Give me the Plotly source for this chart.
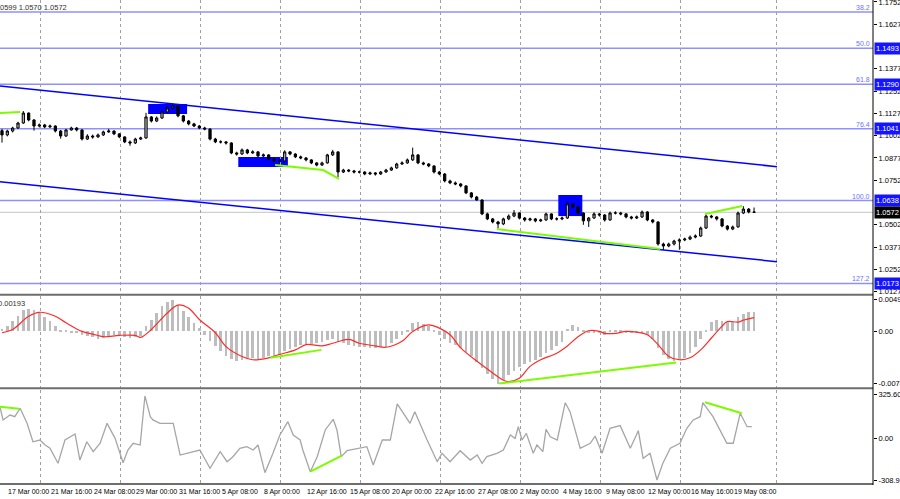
import plotly.graph_objects as go
from plotly.subplots import make_subplots

# EURUSD 8h-ish bars (bar index -> price)
opens = [1.1030, 1.1006, 1.1028, 1.1045, 1.1073, 1.1129, 1.1090, 1.1056, 1.1062, 1.1051,
         1.1056, 1.1028, 1.1000, 1.1034, 1.1045, 1.1034, 1.0983, 1.1000, 1.0995, 1.1006,
         1.1023, 1.1028, 1.1012, 1.0995, 1.0967, 1.0961, 1.0983, 1.0989, 1.1107, 1.1084,
         1.1101, 1.1135, 1.1157, 1.1169, 1.1113, 1.1084, 1.1068, 1.1056, 1.1045, 1.1039,
         1.0983, 1.0967, 1.0967, 1.0961, 1.0905, 1.0899, 1.0922, 1.0905, 1.0911, 1.0888,
         1.0894, 1.0871, 1.0860, 1.0860, 1.0911, 1.0899, 1.0883, 1.0877, 1.0866, 1.0849,
         1.0837, 1.0849, 1.0894, 1.0911, 1.0798, 1.0809, 1.0804, 1.0798, 1.0798, 1.0787,
         1.0793, 1.0787, 1.0798, 1.0809, 1.0821, 1.0843, 1.0849, 1.0866, 1.0894, 1.0849,
         1.0843, 1.0832, 1.0798, 1.0787, 1.0748, 1.0737, 1.0731, 1.0720, 1.0681, 1.0658,
         1.0641, 1.0563, 1.0535, 1.0518, 1.0507, 1.0535, 1.0551, 1.0568, 1.0540, 1.0529,
         1.0535, 1.0524, 1.0529, 1.0563, 1.0535, 1.0535, 1.0540, 1.0619, 1.0602, 1.0568,
         1.0524, 1.0540, 1.0563, 1.0557, 1.0529, 1.0568, 1.0568, 1.0563, 1.0546, 1.0540,
         1.0546, 1.0574, 1.0529, 1.0518, 1.0394, 1.0383, 1.0394, 1.0411, 1.0417, 1.0422,
         1.0433, 1.0439, 1.0484, 1.0551, 1.0546, 1.0535, 1.0495, 1.0478, 1.0490, 1.0568,
         1.0590, 1.0574]
closes = [1.1006, 1.1028, 1.1045, 1.1073, 1.1129, 1.1090, 1.1056, 1.1062, 1.1051, 1.1056,
          1.1028, 1.1000, 1.1034, 1.1045, 1.1034, 1.0983, 1.1000, 1.0995, 1.1006, 1.1023,
          1.1028, 1.1012, 1.0995, 1.0967, 1.0961, 1.0983, 1.0989, 1.1107, 1.1084, 1.1101,
          1.1135, 1.1157, 1.1169, 1.1113, 1.1084, 1.1068, 1.1056, 1.1045, 1.1039, 1.0983,
          1.0967, 1.0967, 1.0961, 1.0905, 1.0899, 1.0922, 1.0905, 1.0911, 1.0888, 1.0894,
          1.0871, 1.0860, 1.0860, 1.0911, 1.0899, 1.0883, 1.0877, 1.0866, 1.0849, 1.0837,
          1.0849, 1.0894, 1.0911, 1.0798, 1.0809, 1.0804, 1.0798, 1.0798, 1.0787, 1.0793,
          1.0787, 1.0798, 1.0809, 1.0821, 1.0843, 1.0849, 1.0866, 1.0894, 1.0849, 1.0843,
          1.0832, 1.0798, 1.0787, 1.0748, 1.0737, 1.0731, 1.0720, 1.0681, 1.0658, 1.0641,
          1.0563, 1.0535, 1.0518, 1.0507, 1.0535, 1.0551, 1.0568, 1.0540, 1.0529, 1.0535,
          1.0524, 1.0529, 1.0563, 1.0535, 1.0535, 1.0540, 1.0619, 1.0602, 1.0568, 1.0524,
          1.0540, 1.0563, 1.0557, 1.0529, 1.0568, 1.0568, 1.0563, 1.0546, 1.0540, 1.0546,
          1.0574, 1.0529, 1.0518, 1.0394, 1.0383, 1.0394, 1.0411, 1.0417, 1.0422, 1.0433,
          1.0439, 1.0484, 1.0551, 1.0546, 1.0535, 1.0495, 1.0478, 1.0490, 1.0568, 1.0590,
          1.0574, 1.0572]
highs = [1.1040, 1.1035, 1.1052, 1.1080, 1.1140, 1.1132, 1.1095, 1.1070, 1.1068, 1.1064,
         1.1060, 1.1034, 1.1040, 1.1052, 1.1050, 1.1038, 1.1010, 1.1008, 1.1014, 1.1030,
         1.1040, 1.1032, 1.1016, 1.0998, 1.0975, 1.0990, 1.0996, 1.1130, 1.1112, 1.1110,
         1.1142, 1.1170, 1.1185, 1.1175, 1.1118, 1.1090, 1.1074, 1.1062, 1.1052, 1.1044,
         1.0990, 1.0976, 1.0972, 1.0965, 1.0912, 1.0930, 1.0928, 1.0920, 1.0916, 1.0902,
         1.0898, 1.0876, 1.0870, 1.0920, 1.0916, 1.0904, 1.0890, 1.0882, 1.0870, 1.0854,
         1.0856, 1.0900, 1.0922, 1.0914, 1.0816, 1.0814, 1.0810, 1.0806, 1.0802, 1.0800,
         1.0798, 1.0804, 1.0816, 1.0828, 1.0850, 1.0858, 1.0874, 1.0935, 1.0898, 1.0856,
         1.0848, 1.0836, 1.0804, 1.0792, 1.0755, 1.0745, 1.0736, 1.0724, 1.0686, 1.0664,
         1.0645, 1.0570, 1.0540, 1.0524, 1.0542, 1.0560, 1.0585, 1.0572, 1.0546, 1.0542,
         1.0540, 1.0536, 1.0570, 1.0566, 1.0544, 1.0548, 1.0630, 1.0624, 1.0608, 1.0572,
         1.0546, 1.0572, 1.0568, 1.0562, 1.0576, 1.0578, 1.0575, 1.0568, 1.0552, 1.0554,
         1.0582, 1.0578, 1.0534, 1.0522, 1.0402, 1.0402, 1.0418, 1.0426, 1.0430, 1.0442,
         1.0448, 1.0492, 1.0560, 1.0558, 1.0552, 1.0540, 1.0500, 1.0498, 1.0576, 1.0606,
         1.0596, 1.0599]
lows = [1.0963, 1.0998, 1.1020, 1.1040, 1.1068, 1.1082, 1.1030, 1.1048, 1.1044, 1.1045,
        1.1020, 1.0985, 1.0995, 1.1030, 1.1026, 1.0975, 1.0978, 1.0985, 1.0990, 1.1000,
        1.1018, 1.1005, 1.0988, 1.0960, 1.0945, 1.0955, 1.0978, 1.0985, 1.1076, 1.1078,
        1.1096, 1.1128, 1.1150, 1.1105, 1.1076, 1.1060, 1.1050, 1.1038, 1.1032, 1.0975,
        1.0960, 1.0958, 1.0952, 1.0898, 1.0890, 1.0894, 1.0898, 1.0900, 1.0880, 1.0882,
        1.0864, 1.0852, 1.0850, 1.0856, 1.0892, 1.0876, 1.0870, 1.0858, 1.0842, 1.0830,
        1.0832, 1.0845, 1.0888, 1.0770, 1.0792, 1.0797, 1.0790, 1.0790, 1.0780, 1.0782,
        1.0778, 1.0782, 1.0794, 1.0804, 1.0816, 1.0838, 1.0844, 1.0860, 1.0842, 1.0836,
        1.0825, 1.0790, 1.0780, 1.0740, 1.0730, 1.0724, 1.0712, 1.0674, 1.0650, 1.0636,
        1.0556, 1.0528, 1.0510, 1.0483, 1.0500, 1.0528, 1.0545, 1.0532, 1.0520, 1.0522,
        1.0516, 1.0518, 1.0524, 1.0528, 1.0526, 1.0528, 1.0535, 1.0594, 1.0560, 1.0502,
        1.0490, 1.0535, 1.0548, 1.0520, 1.0525, 1.0560, 1.0555, 1.0538, 1.0532, 1.0534,
        1.0540, 1.0522, 1.0510, 1.0385, 1.0360, 1.0376, 1.0386, 1.0362, 1.0410, 1.0416,
        1.0426, 1.0434, 1.0478, 1.0538, 1.0526, 1.0488, 1.0470, 1.0472, 1.0486, 1.0562,
        1.0566, 1.0570]
bars = list(range(len(closes)))

# OsMA histogram + signal line
hist = [0.0004, 0.0008, 0.0016, 0.0024, 0.0032, 0.0034, 0.0033, 0.0028, 0.0022, 0.0016,
        0.0008, 0.0002, 0.0001, -0.0001, -0.0001, -0.0005, -0.0007, -0.0009, -0.0011, -0.0010,
        -0.0007, -0.0005, -0.0006, -0.0008, -0.0010, -0.0009, -0.0007, 0.0008, 0.0018, 0.0028,
        0.0038, 0.0044, 0.0047, 0.0040, 0.0031, 0.0022, 0.0013, 0.0005, -0.0006, -0.0014,
        -0.0022, -0.0030, -0.0037, -0.0042, -0.0045, -0.0043, -0.0041, -0.0040, -0.0042, -0.0041,
        -0.0038, -0.0037, -0.0036, -0.0029, -0.0026, -0.0023, -0.0021, -0.0020, -0.0019, -0.0018,
        -0.0016, -0.0013, -0.0012, -0.0016, -0.0018, -0.0020, -0.0022, -0.0023, -0.0024, -0.0025,
        -0.0025, -0.0024, -0.0023, -0.0018, -0.0011, -0.0005, 0.0002, 0.0013, 0.0015, 0.0011,
        0.0008, 0.0002, -0.0006, -0.0012, -0.0017, -0.0021, -0.0025, -0.0031, -0.0038, -0.0046,
        -0.0055, -0.0064, -0.0072, -0.0079, -0.0074, -0.0066, -0.0060, -0.0054, -0.0050, -0.0046,
        -0.0043, -0.0039, -0.0033, -0.0028, -0.0022, -0.0016, 0.0004, 0.0010, 0.0006, 0.0002,
        -0.0001, -0.0002, -0.0002, -0.0005, 0.0001, 0.0002, 0.0002, -0.0001, -0.0002, -0.0003,
        -0.0002, -0.0006, -0.0012, -0.0025, -0.0035, -0.0042, -0.0045, -0.0044, -0.0040, -0.0032,
        -0.0024, -0.0012, 0.0002, 0.0014, 0.0017, 0.0016, 0.0014, 0.0015, 0.0022, 0.0026,
        0.0029, 0.0030]
sig_x = [0, 2, 5, 7, 10, 12, 15, 17, 19, 22, 25, 26, 28, 31, 33, 35, 37, 40, 42, 45,
         47, 50, 52, 55, 57, 60, 62, 65, 67, 70, 72, 75, 77, 80, 82, 84, 86, 89, 92, 94,
         95, 97, 99, 101, 104, 106, 108, 110, 112, 113, 115, 117, 119, 121, 123, 125, 127, 129, 131, 133,
         135, 136, 138, 139, 141]
sig_v = [-0.0002, 0.0003, 0.0023, 0.0029, 0.0023, 0.0013, 0.0000, -0.0004, -0.0008, -0.0006,
         -0.0006, -0.0009, 0.0003, 0.0028, 0.0040, 0.0035, 0.0018, -0.0002, -0.0023, -0.0038,
         -0.0043, -0.0040, -0.0035, -0.0028, -0.0020, -0.0022, -0.0018, -0.0012, -0.0018, -0.0022,
         -0.0024, -0.0015, 0.0000, 0.0010, 0.0005, -0.0005, -0.0025, -0.0045, -0.0063, -0.0074,
         -0.0076, -0.0071, -0.0053, -0.0043, -0.0033, -0.0022, -0.0008, 0.0001, 0.0000, -0.0003,
         -0.0003, 0.0000, -0.0001, -0.0005, -0.0020, -0.0038, -0.0043, -0.0040, -0.0028, -0.0010,
         0.0008, 0.0015, 0.0014, 0.0017, 0.0021]

# CCI
cci_x = [-0.4, 0.2, 1.5, 2.4, 3.0, 3.4, 4.7, 5.8, 7.1, 8.1, 9.0, 10.5, 11.8, 13.7, 14.6, 15.9,
         17.1, 18.4, 19.7, 21.2, 22.7, 23.6, 24.6, 25.9, 26.8, 27.8, 28.3, 29.6, 32.1, 33.4,
         37.1, 39.0, 40.9, 42.2, 43.3, 44.6, 45.9, 47.1, 48.0, 49.3, 50.8, 52.1, 53.6, 54.6,
         55.9, 56.4, 57.8, 59.1, 60.6, 62.1, 62.8, 63.6, 64.7, 67.1, 68.4, 69.6, 71.3, 72.8,
         74.1, 76.5, 77.4, 79.7, 81.6, 82.5, 84.0, 85.9, 87.8, 89.1, 90.0, 90.9, 92.8, 94.0,
         95.3, 96.2, 96.8, 97.5, 98.3, 99.6, 100.3, 101.4, 102.0, 102.8, 104.1, 105.6, 106.5,
         108.4, 110.3, 111.2, 112.5, 114.0, 115.9, 117.8, 119.3, 120.2, 121.5, 122.8, 123.9,
         125.3, 127.1, 128.4, 129.6, 130.9, 131.4, 133.3, 134.6, 135.9, 137.1, 138.4, 139.7, 140.6]
cci_v = [235, 137, 173, 161, 198, 223, 112, -24, -11, -48, -72, -183, -11, 33, -159, -24,
         -97, -35, 112, 1, -179, -85, -35, -48, 314, 161, 137, 112, 112, -122,
         -85, -220, -97, -171, -134, -72, -60, -85, -48, -252, -109, 26, 124, 26,
         -11, -85, -245, -134, 63, 142, 63, -134, -90, -72, -60, -196, -11, -11,
         255, 112, 198, -11, -171, -109, -171, -90, -159, -122, -183, -134, -109, -85,
         26, 1, 87, -11, 38, -109, -48, -97, 68, 13, -11, 264, 198,
         -72, -35, 18, -109, 75, 95, -72, 58, -146, -109, -306, -183,
         -72, -35, 75, 137, 161, 264, 161, 63, -35, -35, 186, 87, 87]

# drawn objects
fib_levels = [1.1695, 1.1493, 1.1290, 1.1041, 1.0638, 1.0173]
fib_names = ["38.2", "50.0", "61.8", "76.4", "100.0", "127.2"]
last_price = 1.0572
channel_x = [-0.375, 145.3]
channel_top = [1.1281, 1.0828]
channel_bottom = [1.0744, 1.0295]
green_main = [([-0.375, 3.4], [1.1129, 1.1135]),
              ([51.2, 60.2, 63.2], [1.0837, 1.0809, 1.0759]),
              ([92.8, 123.4], [1.0478, 1.0366]),
              ([131.8, 138.8], [1.0562, 1.0607])]
green_macd = [([50.3, 59.9], [-0.0040, -0.0028]),
              ([93.2, 126.4], [-0.0079, -0.0047])]
green_cci = [([-0.4, 3.2], [235, 220]),
             ([57.8, 63.7], [-245, -127]),
             ([131.8, 138.7], [267, 186])]
boxes = [(27.4, 34.7, 1.1123, 1.1180),
         (44.3, 53.6, 1.0826, 1.0882),
         (104.3, 108.8, 1.0551, 1.0669)]

price_ticks = [1.1752, 1.1627, 1.1377, 1.1252, 1.1127, 1.1002, 1.0877, 1.0752,
               1.0502, 1.0377, 1.0252, 1.0127]
macd_ticks = [0.00491, 0.0, -0.00786]
macd_text = ["0.00491", "0.00", "-0.00786"]
cci_ticks = [325.6039, 0.0, -308.9157]
cci_text = ["325.6039", "0.00", "-308.9157"]
grid_x = [7.3, 22.3, 37.3, 52.3, 67.3, 82.3, 97.3, 112.3, 127.3, 145.3]
label_bars = [1, 9, 17, 25, 33, 41, 49, 57, 65, 73, 81, 89, 97, 105, 113, 121, 129, 137]
label_text = ["17 Mar 00:00", "21 Mar 16:00", "24 Mar 08:00", "29 Mar 00:00", "31 Mar 16:00",
              "5 Apr 08:00", "8 Apr 00:00", "12 Apr 16:00", "15 Apr 08:00", "20 Apr 00:00",
              "22 Apr 16:00", "27 Apr 08:00", "2 May 00:00", "4 May 16:00", "9 May 08:00",
              "12 May 00:00", "16 May 16:00", "19 May 08:00"]

FONT = "Liberation Sans"
GREEN = "#7cfc00"
FIB = "#8f8fff"
TICK = 7.5

fig = make_subplots(rows=3, cols=1, shared_xaxes=True, vertical_spacing=0)

fig.add_trace(go.Scatter(x=channel_x, y=channel_top, mode="lines",
                         line=dict(color="#0000ff", width=1.5)), row=1, col=1)
fig.add_trace(go.Scatter(x=channel_x, y=channel_bottom, mode="lines",
                         line=dict(color="#0000ff", width=1.5)), row=1, col=1)

fig.add_trace(go.Candlestick(
    x=bars, open=opens, high=highs, low=lows, close=closes, whiskerwidth=0,
    increasing=dict(line=dict(color="black", width=1), fillcolor="#b3b3b3"),
    decreasing=dict(line=dict(color="black", width=1), fillcolor="black"),
    hoverinfo="skip"), row=1, col=1)

for gx, gy in green_main:
    fig.add_trace(go.Scatter(x=gx, y=gy, mode="lines", line=dict(color=GREEN, width=2)), row=1, col=1)

fig.add_trace(go.Bar(x=bars, y=hist, width=0.5, marker=dict(color="#bdbdbd", line=dict(width=0))),
              row=2, col=1)
fig.add_trace(go.Scatter(x=sig_x, y=sig_v, mode="lines",
                         line=dict(color="#ff2a2a", width=1.2, shape="spline")), row=2, col=1)
for gx, gy in green_macd:
    fig.add_trace(go.Scatter(x=gx, y=gy, mode="lines", line=dict(color=GREEN, width=2)), row=2, col=1)

fig.add_trace(go.Scatter(x=cci_x, y=cci_v, mode="lines",
                         line=dict(color="#a6a6a6", width=1.3)), row=3, col=1)
for gx, gy in green_cci:
    fig.add_trace(go.Scatter(x=gx, y=gy, mode="lines", line=dict(color=GREEN, width=2)), row=3, col=1)

shapes = []
for x0, x1, y0, y1 in boxes:
    shapes.append(dict(type="rect", xref="x", yref="y", x0=x0, x1=x1, y0=y0, y1=y1,
                       fillcolor="#0000ff", line=dict(width=0), layer="below"))
for lv in fib_levels:
    shapes.append(dict(type="line", xref="paper", yref="y", x0=0, x1=1, y0=lv, y1=lv,
                       line=dict(color=FIB, width=1.5), layer="below"))
shapes.append(dict(type="line", xref="paper", yref="y", x0=0, x1=1, y0=last_price, y1=last_price,
                   line=dict(color="#c4c4c4", width=1), layer="below"))
for py in [0.3925, 0.1995, 0.002]:
    shapes.append(dict(type="line", xref="paper", yref="paper", x0=0, x1=1, y0=py, y1=py,
                       line=dict(color="#6e6e6e", width=2)))
shapes.append(dict(type="line", xref="paper", yref="paper", x0=1, x1=1, y0=0, y1=1,
                   line=dict(color="black", width=1)))

annotations = []
for lv, nm in zip(fib_levels, fib_names):
    annotations.append(dict(xref="paper", yref="y", x=1, y=lv, xanchor="right", yanchor="bottom",
                            xshift=-1, yshift=-1, text=nm, showarrow=False,
                            font=dict(family=FONT, size=7, color="#6f6fff")))
for lv in fib_levels[1:]:
    annotations.append(dict(xref="paper", yref="y", x=1, y=lv, xanchor="left", yanchor="middle",
                            xshift=1, text=f"{lv:.4f}", showarrow=False, bgcolor="#1414ff",
                            borderpad=1, font=dict(family=FONT, size=TICK, color="white")))
annotations.append(dict(xref="paper", yref="y", x=1, y=last_price, xanchor="left", yanchor="middle",
                        xshift=1, text=f"{last_price:.4f}", showarrow=False, bgcolor="black",
                        borderpad=1, font=dict(family=FONT, size=TICK, color="white")))
for b, t in zip(label_bars, label_text):
    annotations.append(dict(xref="x3", yref="paper", x=b - 0.2, y=0, xanchor="left", yanchor="top",
                            yshift=-1, text=t, showarrow=False,
                            font=dict(family=FONT, size=7, color="black")))
annotations.append(dict(xref="paper", yref="paper", x=0, y=1, xanchor="left", yanchor="top",
                        xshift=-2, yshift=-1, text="0599 1.0570 1.0572", showarrow=False,
                        font=dict(family=FONT, size=7.5, color="#303030")))
annotations.append(dict(xref="paper", yref="paper", x=0, y=0.3897, xanchor="left", yanchor="top",
                        xshift=-4, yshift=-1, text="0.00193", showarrow=False,
                        font=dict(family=FONT, size=7.5, color="#303030")))

fig.update_layout(
    width=900, height=499, margin=dict(l=0, r=27, t=0, b=14, autoexpand=False),
    paper_bgcolor="white", plot_bgcolor="white", showlegend=False,
    shapes=shapes, annotations=annotations, bargap=0, boxgap=0.4,
    font=dict(family=FONT, size=8, color="black"),
)
fig.update_xaxes(range=[-0.375, 163.3], tickmode="array", tickvals=grid_x, showticklabels=False,
                 ticks="", showgrid=True, gridcolor="#a0a0a0", griddash="dot", gridwidth=1,
                 zeroline=False, showline=False, automargin=False, rangeslider=dict(visible=False))

yaxis_common = dict(side="right", ticks="outside", ticklen=3, tickcolor="black", showgrid=False,
                    zeroline=False, showline=False, automargin=False, ticklabeloverflow="allow",
                    tickfont=dict(family=FONT, size=TICK, color="black"))
fig.update_layout(
    yaxis=dict(domain=[0.3928, 1], range=[1.0111, 1.1763], tickmode="array",
               tickvals=price_ticks, tickformat=".4f", **yaxis_common),
    yaxis2=dict(domain=[0.2, 0.3897], range=[-0.00858, 0.00537], tickmode="array",
                tickvals=macd_ticks, ticktext=macd_text, **yaxis_common),
    yaxis3=dict(domain=[0, 0.1959], range=[-343, 358], tickmode="array",
                tickvals=cci_ticks, ticktext=cci_text, **yaxis_common),
)

# the page's default body margin would push the 900x499 figure out of the window
fig.write_html("out.html", config={"displayModeBar": False},
               post_script="document.body.style.margin='0';document.body.style.overflow='hidden';")
